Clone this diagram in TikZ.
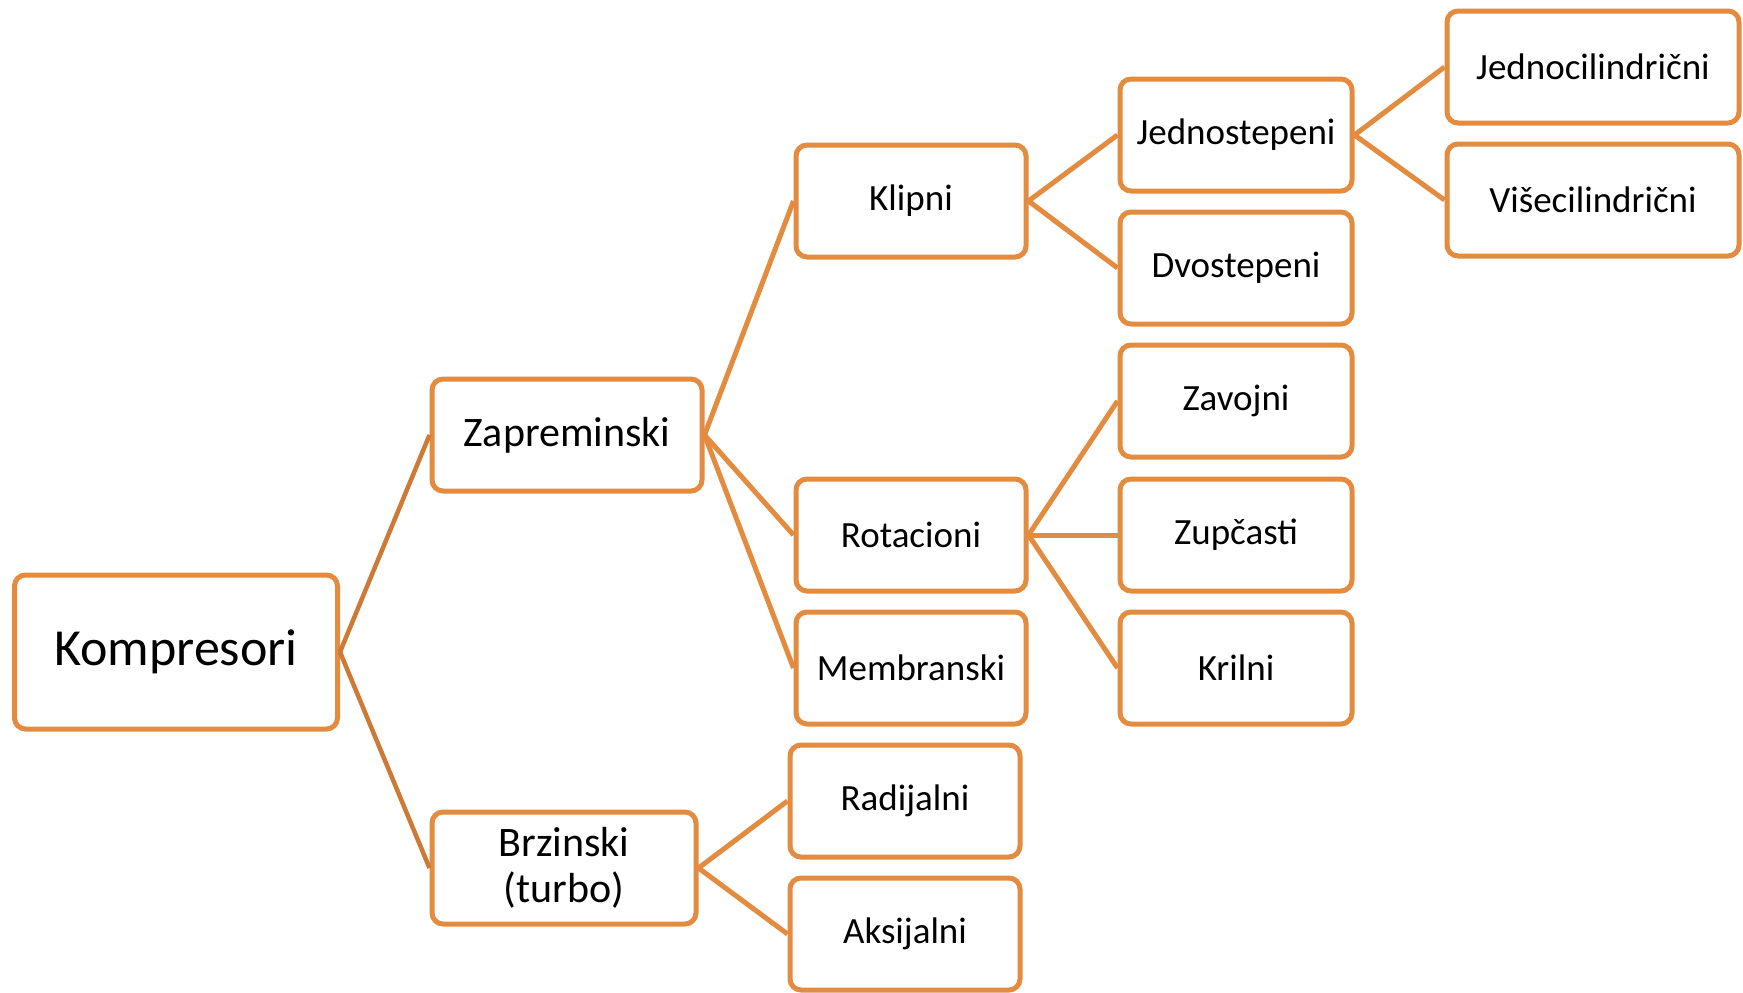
\documentclass[tikz,border=0pt]{standalone}
\usepackage{fontspec}
\setmainfont{Carlito}
\definecolor{boxorange}{HTML}{E38B3F}
\definecolor{linkbrown}{HTML}{CC7A36}
\begin{document}
\begin{tikzpicture}[x=1pt,y=-1pt,
  box/.style={draw=boxorange,line width=5pt,rounded corners=11pt,fill=white,
    minimum width=230pt,minimum height=112pt,inner sep=0pt,align=center,
    font=\fontsize{37}{44}\selectfont},
  link/.style={draw=boxorange,line width=5pt},
  rootlink/.style={draw=linkbrown,line width=4.5pt}]
\useasboundingbox (0,0) rectangle (1743,993);
\node[box,minimum width=323pt,minimum height=154pt,font=\fontsize{52}{60}\selectfont] (komp) at (176,652) {Kompresori};
\node[box,minimum width=270pt,font=\fontsize{42}{46}\selectfont] (zap) at (567,435) {Zapreminski};
\node[box,minimum width=264pt,font=\fontsize{42}{46}\selectfont] (brz) at (564,868) {Brzinski\\(turbo)};
\node[box] (klip) at (911,201) {Klipni};
\node[box] (rot) at (911,535) {Rotacioni};
\node[box] (memb) at (911,668) {Membranski};
\node[box] (rad) at (905,801) {Radijalni};
\node[box] (aks) at (905,934) {Aksijalni};
\node[box,minimum width=232pt] (jedno) at (1236,135) {Jednostepeni};
\node[box,minimum width=232pt] (dvo) at (1236,268) {Dvostepeni};
\node[box,minimum width=232pt] (zav) at (1236,401) {Zavojni};
\node[box,minimum width=232pt] (zup) at (1236,535) {Zupčasti};
\node[box,minimum width=232pt] (kril) at (1236,668) {Krilni};
\node[box,minimum width=292pt] (jcil) at (1593,67) {Jednocilindrični};
\node[box,minimum width=292pt] (vcil) at (1593,200) {Višecilindrični};
% connectors
\foreach \a/\b in {komp/zap,komp/brz}
  \draw[rootlink] (\a.east) -- (\b.west);
\foreach \a/\b in {zap/klip,zap/rot,zap/memb,brz/rad,brz/aks,
  klip/jedno,klip/dvo,rot/zav,rot/zup,rot/kril,jedno/jcil,jedno/vcil}
  \draw[link] (\a.east) -- (\b.west);
\end{tikzpicture}
\end{document}
